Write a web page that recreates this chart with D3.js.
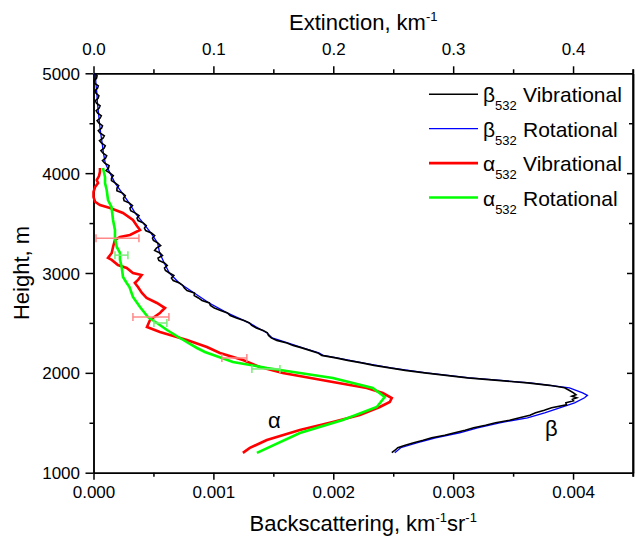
<!DOCTYPE html>
<html lang="en">
<head>
<meta charset="UTF-8">
<title>Backscattering and extinction profiles</title>
<script src="https://cdn.jsdelivr.net/npm/d3@7"></script>
<style>
  body { margin: 0; background: #fff; }
  text { font-family: "Liberation Sans", Arial, sans-serif; }
</style>
</head>
<body>
<svg width="635" height="538"></svg>
<script>
// beta532, vibrational and rotational: [height m, value in 1e-3 km^-1 sr^-1]
const betaVib = [
  [5000,0.013],[4975,0.030],[4950,0.025],[4925,0.005],[4900,0.010],[4875,0.040],[4850,0.033],
  [4825,0.012],[4800,0.021],[4775,0.045],[4750,0.038],[4725,0.015],[4700,0.025],[4675,0.055],
  [4650,0.046],[4625,0.022],[4600,0.035],[4575,0.065],[4550,0.054],[4525,0.030],[4500,0.046],
  [4475,0.075],[4450,0.067],[4425,0.040],[4400,0.056],[4375,0.090],[4350,0.079],[4325,0.050],
  [4300,0.068],[4275,0.098],[4250,0.088],[4225,0.062],[4200,0.080],[4175,0.110],[4150,0.100],
  [4125,0.075],[4100,0.094],[4075,0.130],[4050,0.125],[4025,0.105],[4000,0.138],[3975,0.165],
  [3950,0.150],[3925,0.150],[3900,0.183],[3875,0.210],[3850,0.196],[3825,0.195],[3800,0.242],
  [3775,0.265],[3750,0.250],[3725,0.255],[3700,0.300],[3675,0.325],[3650,0.304],[3625,0.310],
  [3600,0.350],[3575,0.380],[3550,0.363],[3525,0.372],[3500,0.417],[3475,0.440],[3450,0.425],
  [3425,0.435],[3400,0.483],[3375,0.510],[3350,0.492],[3325,0.500],[3300,0.538],[3275,0.560],
  [3250,0.525],[3225,0.510],[3200,0.554],[3175,0.575],[3150,0.538],[3125,0.545],[3100,0.592],
  [3075,0.615],[3050,0.592],[3025,0.600],[3000,0.633],[2975,0.670],[2950,0.650],[2925,0.665],
  [2900,0.717],[2875,0.745],[2850,0.758],[2825,0.780],[2800,0.842],[2775,0.840],[2750,0.875],
  [2725,0.905],[2700,0.967],[2675,0.975],[2650,1.008],[2625,1.060],[2600,1.117],[2575,1.140],
  [2550,1.192],[2525,1.255],[2500,1.300],[2475,1.320],[2450,1.358],[2425,1.415],[2400,1.450],
  [2375,1.460],[2350,1.483],[2325,1.529],[2300,1.613],[2275,1.665],[2250,1.738],[2225,1.804],
  [2200,1.871],[2175,1.904],[2150,2.021],[2125,2.120],[2100,2.238],[2075,2.340],[2050,2.471],
  [2025,2.600],[2000,2.763],[1950,3.121],[1900,3.621],[1875,3.804],[1850,3.929],[1825,3.967],
  [1800,4.004],[1780,4.025],[1765,3.990],[1750,4.030],[1735,3.995],[1720,4.004],[1700,3.940],
  [1680,3.945],[1650,3.821],[1625,3.760],[1600,3.688],[1575,3.640],[1550,3.554],[1525,3.470],
  [1500,3.354],[1475,3.270],[1450,3.171],[1425,3.100],[1400,3.013],[1375,2.930],[1350,2.821],
  [1325,2.750],[1300,2.671],[1275,2.600],[1250,2.538],[1225,2.515],[1200,2.488]
];
const betaRot = [
  [5000,0.015],[4900,0.020],[4800,0.028],[4700,0.033],[4600,0.042],[4500,0.050],[4400,0.060],
  [4300,0.072],[4200,0.083],[4100,0.098],[4000,0.138],[3900,0.180],[3800,0.240],[3700,0.298],
  [3600,0.348],[3500,0.415],[3400,0.480],[3300,0.535],[3200,0.552],[3100,0.590],[3000,0.633],
  [2900,0.715],[2800,0.840],[2700,0.965],[2600,1.115],[2500,1.298],[2400,1.448],[2350,1.490],
  [2300,1.620],[2250,1.745],[2200,1.880],[2175,1.915],[2150,2.030],[2100,2.245],[2050,2.480],
  [2000,2.775],[1950,3.135],[1900,3.640],[1850,3.970],[1800,4.080],[1775,4.120],[1750,4.096],
  [1700,4.013],[1650,3.888],[1600,3.763],[1550,3.620],[1500,3.388],[1450,3.204],[1400,3.054],
  [1350,2.854],[1300,2.704],[1250,2.563],[1200,2.513]
];
// alpha532, extinction km^-1
const alphaVib = [
  [4052,0.0054],[4015,0.0054],[3971,0.0046],[3931,0.0027],[3901,0.0038],[3861,0.0013],
  [3811,0.0],[3761,0.0],[3714,0.0013],[3681,0.0054],[3651,0.0138],[3601,0.0246],[3531,0.0329],
  [3471,0.0363],[3431,0.0388],[3381,0.0304],[3361,0.0221],[3331,0.0179],[3261,0.0163],
  [3201,0.0152],[3151,0.0121],[3131,0.0152],[3080,0.0204],[3050,0.0277],[3000,0.0329],
  [2980,0.0402],[2930,0.0371],[2900,0.0345],[2860,0.0371],[2800,0.0404],[2750,0.0443],
  [2700,0.0529],[2649,0.0596],[2620,0.0570],[2599,0.0554],[2529,0.0471],[2459,0.0446],
  [2409,0.0554],[2329,0.0779],[2259,0.0946],[2199,0.1054],[2129,0.1246],[2059,0.1388],
  [1999,0.1579],[1908,0.1996],[1848,0.2279],[1798,0.2413],[1748,0.2488],[1708,0.2471],
  [1658,0.2388],[1578,0.2221],[1508,0.1996],[1428,0.1721],[1328,0.1446],[1248,0.1304],
  [1198,0.1246]
];
const alphaRot = [
  [4052,0.0079],[3961,0.0096],[3900,0.0096],[3831,0.0110],[3731,0.0121],[3661,0.0150],
  [3531,0.0163],[3431,0.0179],[3351,0.0179],[3261,0.0194],[3201,0.0221],[3131,0.0221],
  [3060,0.0235],[2960,0.0246],[2900,0.0277],[2860,0.0300],[2760,0.0329],[2660,0.0388],
  [2559,0.0454],[2499,0.0529],[2429,0.0613],[2349,0.0721],[2249,0.0863],[2209,0.0929],
  [2109,0.1163],[2049,0.1446],[1949,0.1996],[1848,0.2329],[1758,0.2429],[1658,0.2363],
  [1528,0.2079],[1398,0.1721],[1198,0.1363]
];
// error bars: [height, extinction, half width]
const alphaVibErr = [[3349,0.0200,0.0179],[2559,0.0479,0.0150],[2149,0.1175,0.0104]];
const alphaRotErr = [[3179,0.0233,0.0054],[2499,0.0558,0.0054],[2039,0.1438,0.0117]];

const bottomTicks = [0, 0.001, 0.002, 0.003, 0.004];
const topTicks = [0, 0.1, 0.2, 0.3, 0.4];
const heightTicks = [1000, 2000, 3000, 4000, 5000];

const svg = d3.select('svg');
const pLeft = 93.5, pRight = 633, pTop = 73.3, pBottom = 472.7;

const x = d3.scaleLinear().domain([0, 0.0045]).range([pLeft, pRight]);
const xTop = d3.scaleLinear().domain([0, 0.45]).range([pLeft, pRight]);
const y = d3.scaleLinear().domain([1000, 5000]).range([pBottom, pTop]);

function styleAxis(g) {
  g.selectAll('path,line').attr('stroke', '#000').attr('stroke-width', 1.5);
  g.selectAll('text').attr('fill', '#000').style('font-size', '17px')
    .style('font-family', '"Liberation Sans", Arial, sans-serif');
}

// minor ticks
svg.append('g').attr('transform', 'translate(0,' + pBottom + ')')
  .call(d3.axisBottom(x).tickValues(d3.range(0.0005, 0.0046, 0.001)).tickSize(4).tickSizeOuter(0).tickFormat(''))
  .call(styleAxis);
svg.append('g').attr('transform', 'translate(0,' + pTop + ')')
  .call(d3.axisTop(xTop).tickValues(d3.range(0.05, 0.46, 0.1)).tickSize(4).tickSizeOuter(0).tickFormat(''))
  .call(styleAxis);
svg.append('g').attr('transform', 'translate(' + pLeft + ',0)')
  .call(d3.axisLeft(y).tickValues([1500, 2500, 3500, 4500]).tickSize(4).tickSizeOuter(0).tickFormat(''))
  .call(styleAxis);

// major axes
const gb = svg.append('g').attr('transform', 'translate(0,' + pBottom + ')')
  .call(d3.axisBottom(x).tickValues(bottomTicks).tickSize(7).tickSizeOuter(0).tickFormat(d3.format('.3f')))
  .call(styleAxis);
gb.selectAll('text').attr('y', 25.6).attr('dy', 0);

const gt = svg.append('g').attr('transform', 'translate(0,' + pTop + ')')
  .call(d3.axisTop(xTop).tickValues(topTicks).tickSize(7).tickSizeOuter(0).tickFormat(d3.format('.1f')))
  .call(styleAxis);
gt.selectAll('text').attr('y', -18.3).attr('dy', 0);

const gl = svg.append('g').attr('transform', 'translate(' + pLeft + ',0)')
  .call(d3.axisLeft(y).tickValues(heightTicks).tickSize(8).tickSizeOuter(0).tickFormat(d3.format('d')))
  .call(styleAxis);
gl.selectAll('text').attr('x', -13.5).attr('dy', '0.36em');

// right axis with inward ticks
svg.append('g').attr('transform', 'translate(' + pRight + ',0)')
  .call(d3.axisRight(y).tickValues(heightTicks.slice(1, 4)).tickSize(-6).tickSizeOuter(0).tickFormat(''))
  .call(styleAxis);
svg.append('g').attr('transform', 'translate(' + pRight + ',0)')
  .call(d3.axisRight(y).tickValues([1500, 2500, 3500, 4500]).tickSize(-4).tickSizeOuter(0).tickFormat(''))
  .call(styleAxis);
svg.append('line').attr('x1', pRight).attr('x2', pRight).attr('y1', pTop - 4).attr('y2', pBottom + 4)
  .attr('stroke', '#000').attr('stroke-width', 1.5);

// axis titles
const t1 = svg.append('text').attr('x', (pLeft + pRight) / 2).attr('y', 30)
  .attr('text-anchor', 'middle').style('font-size', '22px');
t1.append('tspan').text('Extinction, km');
t1.append('tspan').attr('dy', -9).style('font-size', '13px').text('-1');

const t2 = svg.append('text').attr('x', (pLeft + pRight) / 2).attr('y', 531)
  .attr('text-anchor', 'middle').style('font-size', '22px');
t2.append('tspan').text('Backscattering, km');
t2.append('tspan').attr('dy', -9).style('font-size', '13px').text('-1');
t2.append('tspan').attr('dy', 9).text('sr');
t2.append('tspan').attr('dy', -9).style('font-size', '13px').text('-1');

svg.append('text').attr('transform', 'translate(29,' + (pTop + pBottom) / 2 + ') rotate(-90)')
  .attr('text-anchor', 'middle').style('font-size', '22px').text('Height, m');

// curves
const lineB = d3.line().x(d => x(d[1] * 1e-3)).y(d => y(d[0]));
const lineA = d3.line().x(d => xTop(d[1])).y(d => y(d[0]));

const plot = svg.append('g');
plot.append('path').datum(betaRot).attr('d', lineB)
  .attr('fill', 'none').attr('stroke', '#0000ff').attr('stroke-width', 1.3);
plot.append('path').datum(betaVib).attr('d', lineB)
  .attr('fill', 'none').attr('stroke', '#000').attr('stroke-width', 1.6);
plot.append('path').datum(alphaVib).attr('d', lineA)
  .attr('fill', 'none').attr('stroke', '#ff0000').attr('stroke-width', 2.6);
plot.append('path').datum(alphaRot).attr('d', lineA)
  .attr('fill', 'none').attr('stroke', '#00ff00').attr('stroke-width', 2.6);

function errorBars(data, color) {
  const g = plot.append('g').attr('stroke', color).attr('stroke-width', 1.5);
  data.forEach(d => {
    const yy = y(d[0]), x0 = xTop(d[1] - d[2]), x1 = xTop(d[1] + d[2]);
    g.append('line').attr('x1', x0).attr('x2', x1).attr('y1', yy).attr('y2', yy);
    g.append('line').attr('x1', x0).attr('x2', x0).attr('y1', yy - 4).attr('y2', yy + 4);
    g.append('line').attr('x1', x1).attr('x2', x1).attr('y1', yy - 4).attr('y2', yy + 4);
  });
}
errorBars(alphaVibErr, '#ff8888');
errorBars(alphaRotErr, '#77ee77');

svg.append('text').attr('x', 268).attr('y', 428).style('font-size', '22px').text('α');
svg.append('text').attr('x', 545).attr('y', 436).style('font-size', '22px').text('β');

// legend
const legend = [
  { sym: 'β', name: 'Vibrational', color: '#000', w: 1.6 },
  { sym: 'β', name: 'Rotational', color: '#0000ff', w: 1.3 },
  { sym: 'α', name: 'Vibrational', color: '#ff0000', w: 2.6 },
  { sym: 'α', name: 'Rotational', color: '#00ff00', w: 2.6 }
];
legend.forEach((d, i) => {
  const ly = 94.3 + i * 34.4;
  svg.append('line').attr('x1', 429).attr('x2', 478).attr('y1', ly).attr('y2', ly)
    .attr('stroke', d.color).attr('stroke-width', d.w);
  const t = svg.append('text').attr('x', 483).attr('y', ly + 8).style('font-size', '21px');
  t.append('tspan').text(d.sym);
  t.append('tspan').attr('dy', 8).style('font-size', '13px').text('532');
  t.append('tspan').attr('x', 523).attr('dy', -8).text(d.name);
});
</script>
</body>
</html>
